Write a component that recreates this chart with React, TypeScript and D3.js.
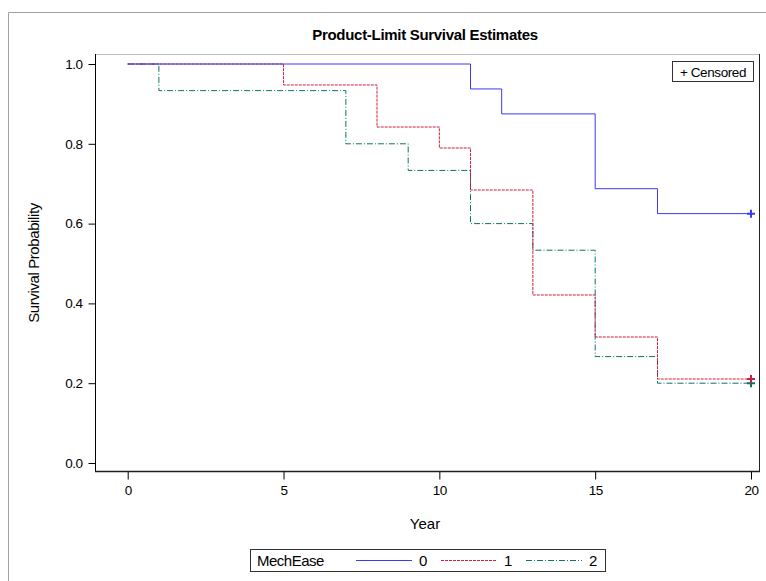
import { useEffect, useRef } from "react";
import * as d3 from "d3";

const WIDTH = 766;
const HEIGHT = 581;
const FRAME = { left: 95, right: 760, top: 54, bottom: 472 };
const FONT = "'Liberation Sans', Arial, sans-serif";

const groups = ["0", "1", "2"];
const times0 = [0, 11, 12, 15, 17, 20];
const surv0 = [1, 0.9375, 0.875, 0.6875, 0.625, 0.625];
const times1 = [0, 5, 8, 10, 11, 13, 15, 17, 20];
const surv1 = [1, 0.9474, 0.8421, 0.7895, 0.6842, 0.4211, 0.3158, 0.2105, 0.2105];
const times2 = [0, 1, 7, 9, 11, 13, 15, 17, 20];
const surv2 = [1, 0.9333, 0.8, 0.7333, 0.6, 0.5333, 0.2667, 0.2, 0.2];
const xTicks = [0, 5, 10, 15, 20];
const yTicks = [0, 0.2, 0.4, 0.6, 0.8, 1.0];

const colors = ["#3a3af2", "#c8203e", "#0a7564"];
const dashes = ["none", "3,1", "6,2,1,2"];

export default function App() {
  const svgRef = useRef<SVGSVGElement>(null);

  useEffect(() => {
    if (!svgRef.current) return;
    const svg = d3.select(svgRef.current);
    svg.selectAll("*").remove();

    const x = d3.scaleLinear().domain([0, 20]).range([127.7, 751]);
    const y = d3.scaleLinear().domain([0, 1]).range([463, 64]);

    // outer gray border (top + left only visible)
    svg
      .append("path")
      .attr("d", `M8.5,${HEIGHT} V12.5 H${WIDTH}`)
      .attr("fill", "none")
      .attr("stroke", "#a0a0a0");

    svg
      .append("text")
      .attr("x", 425)
      .attr("y", 40)
      .attr("text-anchor", "middle")
      .attr("font-family", FONT)
      .attr("font-weight", "bold")
      .attr("font-size", 15)
      .attr("letter-spacing", -0.3)
      .text("Product-Limit Survival Estimates");

    // frame
    svg
      .append("line")
      .attr("x1", FRAME.left)
      .attr("x2", FRAME.right)
      .attr("y1", FRAME.top + 0.5)
      .attr("y2", FRAME.top + 0.5)
      .attr("stroke", "#c0c0c0");
    svg
      .append("line")
      .attr("x1", FRAME.right - 0.5)
      .attr("x2", FRAME.right - 0.5)
      .attr("y1", FRAME.top)
      .attr("y2", FRAME.bottom)
      .attr("stroke", "#202020");

    const yAxis = svg
      .append("g")
      .attr("transform", `translate(${FRAME.left + 0.5},0)`)
      .call(
        d3.axisLeft(y).tickValues(yTicks).tickFormat(d3.format(".1f")).tickSize(7).tickPadding(6)
      );
    yAxis.select(".domain").attr("d", `M0,${FRAME.top}V${FRAME.bottom}`).attr("stroke", "#000");

    const xAxis = svg
      .append("g")
      .attr("transform", `translate(0,${FRAME.bottom - 0.5})`)
      .call(d3.axisBottom(x).tickValues(xTicks).tickFormat(d3.format("d")).tickSize(8).tickPadding(6));
    xAxis
      .select(".domain")
      .attr("d", `M${FRAME.left},0H${FRAME.right}`)
      .attr("stroke", "#202020")
      .attr("stroke-width", 1.5);

    [yAxis, xAxis].forEach((a) => {
      a.selectAll("text")
        .attr("font-family", FONT)
        .attr("font-size", 13.5)
        .attr("letter-spacing", -0.5)
        .attr("fill", "#000");
      a.selectAll(".tick line").attr("stroke", "#000");
    });

    svg
      .append("text")
      .attr("transform", `translate(39,${(FRAME.top + FRAME.bottom) / 2}) rotate(-90)`)
      .attr("text-anchor", "middle")
      .attr("font-family", FONT)
      .attr("font-size", 15)
      .attr("letter-spacing", -0.4)
      .text("Survival Probability");

    svg
      .append("text")
      .attr("x", 425)
      .attr("y", 529)
      .attr("text-anchor", "middle")
      .attr("font-family", FONT)
      .attr("font-size", 15)
      .text("Year");

    const line = d3
      .line<[number, number]>()
      .x((d) => x(d[0]))
      .y((d) => y(d[1]))
      .curve(d3.curveStepAfter);

    const series: [number, number][][] = [
      times0.map((t, i) => [t, surv0[i]]),
      times1.map((t, i) => [t, surv1[i]]),
      times2.map((t, i) => [t, surv2[i]]),
    ];

    // draw in reverse so blue is on top at the start
    [2, 1, 0].forEach((gi) => {
      svg
        .append("path")
        .datum(series[gi])
        .attr("d", line)
        .attr("fill", "none")
        .attr("stroke", colors[gi])
        .attr("stroke-width", 1)
        .attr("stroke-dasharray", dashes[gi]);
      const last = series[gi][series[gi].length - 1];
      const cx = x(last[0]);
      const cy = y(last[1]);
      svg
        .append("path")
        .attr("d", `M${cx - 4},${cy}H${cx + 4}M${cx},${cy - 4}V${cy + 4}`)
        .attr("stroke", colors[gi])
        .attr("stroke-width", 2);
    });

    // censored legend
    svg
      .append("rect")
      .attr("x", 672.5)
      .attr("y", 61.5)
      .attr("width", 81)
      .attr("height", 20)
      .attr("fill", "#fff")
      .attr("stroke", "#333");
    svg
      .append("text")
      .attr("x", 713)
      .attr("y", 76.5)
      .attr("text-anchor", "middle")
      .attr("font-family", FONT)
      .attr("font-size", 13.5)
      .attr("letter-spacing", -0.4)
      .text("+ Censored");

    // bottom legend
    svg
      .append("rect")
      .attr("x", 250.5)
      .attr("y", 549.5)
      .attr("width", 355)
      .attr("height", 22)
      .attr("fill", "#fff")
      .attr("stroke", "#333");
    svg
      .append("text")
      .attr("x", 257)
      .attr("y", 566)
      .attr("font-family", FONT)
      .attr("font-size", 15)
      .attr("letter-spacing", -0.5)
      .text("MechEase");
    const legX = [356, 441, 526];
    groups.forEach((g, gi) => {
      svg
        .append("line")
        .attr("x1", legX[gi])
        .attr("x2", legX[gi] + 56)
        .attr("y1", 560.5)
        .attr("y2", 560.5)
        .attr("stroke", colors[gi])
        .attr("stroke-dasharray", dashes[gi]);
      svg
        .append("text")
        .attr("x", legX[gi] + 63)
        .attr("y", 566)
        .attr("font-family", FONT)
        .attr("font-size", 15)
        .text(g);
    });
  }, []);

  return (
    <div style={{ position: "absolute", left: 0, top: 0 }}>
      <svg ref={svgRef} width={WIDTH} height={HEIGHT} style={{ display: "block", background: "#fff" }} />
    </div>
  );
}
